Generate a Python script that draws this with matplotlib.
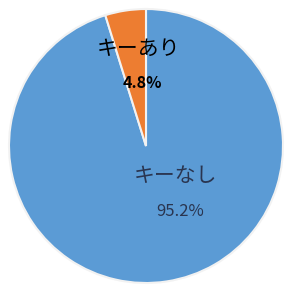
import matplotlib
matplotlib.use("Agg")
import matplotlib.pyplot as plt

categories = ["キーなし", "キーあり"]
values = [95.2, 4.8]
pct_labels = ["95.2%", "4.8%"]
colors = ["#5B9BD5", "#ED7D31"]

plt.rcParams['font.family'] = ['Noto Sans CJK JP', 'DejaVu Sans']

fig = plt.figure(figsize=(2.88, 2.87), dpi=100)
ax = fig.add_axes([0, 0, 1, 1])

wedges, _ = ax.pie(values, colors=colors, startangle=90, counterclock=False,
                   center=(146, 141), radius=137,
                   wedgeprops=dict(edgecolor="#F2F2F2", linewidth=1.5))
ax.set_xlim(0, 288)
ax.set_ylim(0, 287)
ax.set_aspect('equal')
ax.axis('off')

# labels
ax.text(176, 287 - 176, categories[0], ha='center', va='center', fontsize=15, color='#2A3550')
ax.text(180, 287 - 211, pct_labels[0], ha='center', va='center', fontsize=12, color='#2A3550')
ax.text(139, 287 - 49, categories[1], ha='center', va='center', fontsize=15, color='black')
ax.text(142, 287 - 83, pct_labels[1], ha='center', va='center', fontsize=11.5, color='black', fontweight='bold')

fig.savefig("out.png", dpi=100)
